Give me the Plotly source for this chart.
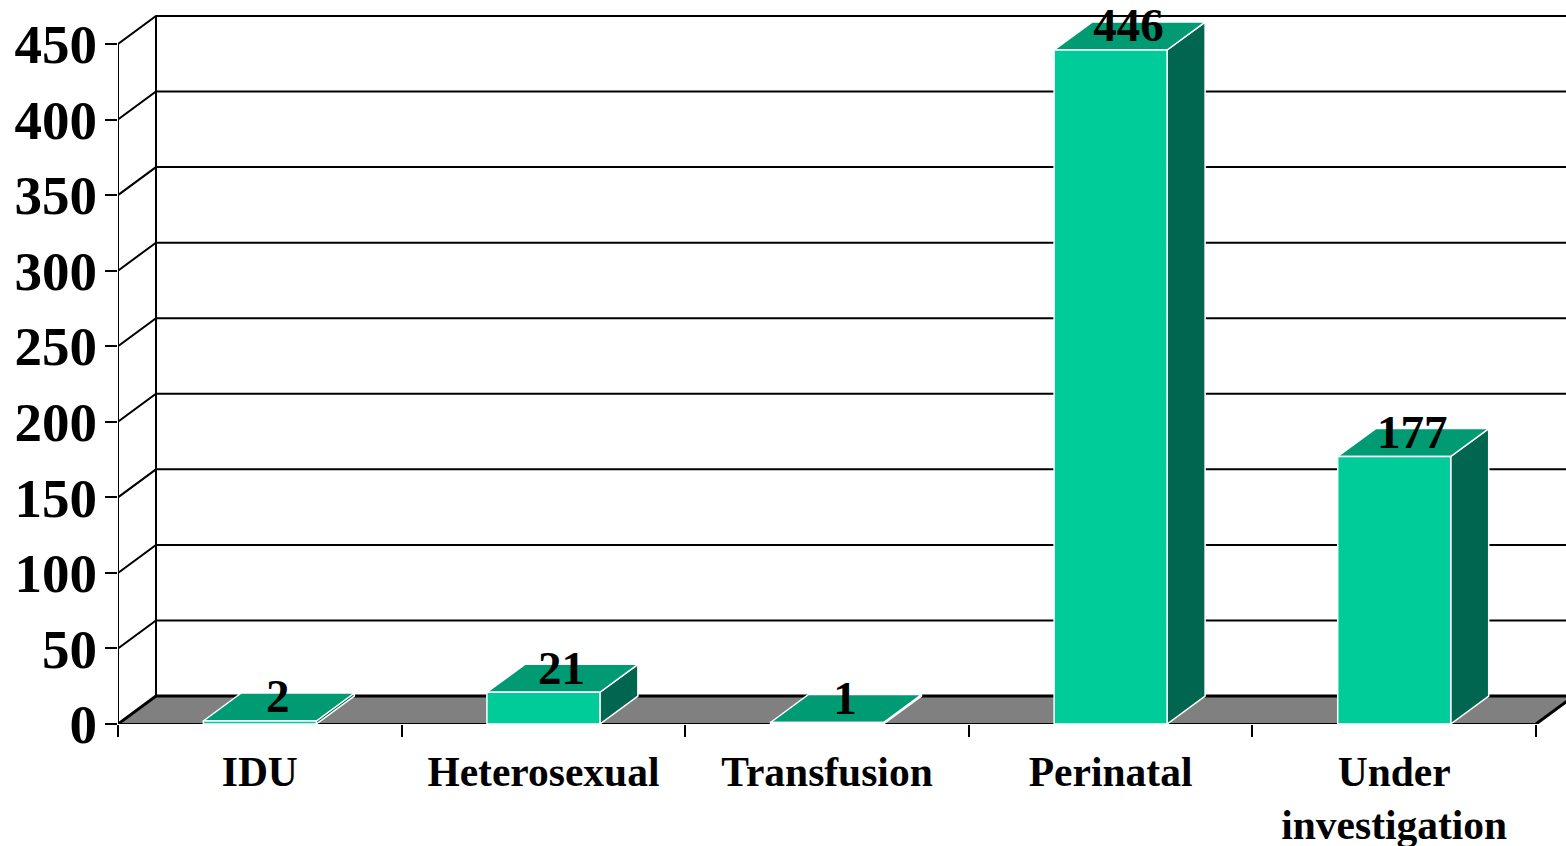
import plotly.graph_objects as go

categories = ["IDU", "Heterosexual", "Transfusion", "Perinatal", "Under<br>investigation"]
values = [2, 21, 1, 446, 177]
y_ticks = [0, 50, 100, 150, 200, 250, 300, 350, 400, 450]

W, H = 1566, 846
L, B0 = 118, 724.5          # axis origin inside the figure
CAT_PX = 283.6
VAL_PX = 680.5 / 450
DX, DY = 38 / CAT_PX, 28 / VAL_PX   # oblique depth in data units
HALF = 56.5 / CAT_PX        # half bar width
SERIF = "Liberation Serif, Times New Roman, serif"
X0, X1 = -0.5, 4.5
X_MAX = X0 + (W - L) / CAT_PX
Y_MAX = B0 / VAL_PX

FRONT, TOP, SIDE = "#00CC99", "#009A73", "#006650"


def poly(xs, ys, fill, line="rgba(0,0,0,0)", w=0, name=""):
    return go.Scatter(x=xs + xs[:1], y=ys + ys[:1], mode="lines", fill="toself", fillcolor=fill,
                      line=dict(color=line, width=w), hoverinfo="skip", showlegend=False, name=name)


fig = go.Figure()

# floor
fig.add_trace(poly([X0, X0 + DX, X1 + DX, X1], [0, DY, DY, 0], "#808080", name="floor"))

# back wall and side wall grid
gx, gy = [], []
for t in y_ticks[1:]:
    gx += [X0, X0 + DX, X_MAX, None]
    gy += [t, t + DY, t + DY, None]
fig.add_trace(go.Scatter(x=gx, y=gy, mode="lines", line=dict(color="black", width=2),
                         hoverinfo="skip", showlegend=False))
fig.add_trace(go.Scatter(x=[X0, X0 + DX, X_MAX, None, X1, X1 + DX], y=[0, DY, DY, None, 0, DY], mode="lines",
                         line=dict(color="black", width=3), hoverinfo="skip", showlegend=False))
fig.add_trace(go.Scatter(x=[X0 + DX, X0 + DX, None, X0, X0], y=[DY, y_ticks[-1] + DY, None, 0, y_ticks[-1]],
                         mode="lines", line=dict(color="black", width=2), hoverinfo="skip",
                         showlegend=False, cliponaxis=False))
fig.add_trace(go.Scatter(x=[X0, X1], y=[0, 0], mode="lines", line=dict(color="black", width=2),
                         hoverinfo="skip", showlegend=False, cliponaxis=False))

# bars
for i, v in enumerate(values):
    l, r = i - HALF, i + HALF
    fig.add_trace(poly([r, r + DX, r + DX, r], [0, DY, v + DY, v], SIDE, "white", 1.5, "side"))
    fig.add_trace(poly([l, r, r + DX, l + DX], [v, v, v + DY, v + DY], TOP, "white", 1.5, "top"))
    fig.add_trace(poly([l, r, r, l], [0, 0, v, v], FRONT, "white", 1.5, "front"))

# value labels
fig.add_trace(go.Scatter(
    x=[i + 18 / CAT_PX for i in range(len(values))],
    y=[v + 20.5 / VAL_PX for v in values],
    mode="text", text=[str(v) for v in values], textposition="middle center",
    textfont=dict(family=SERIF, size=47, color="black", weight="bold"),
    hoverinfo="skip", showlegend=False, cliponaxis=False))

fig.update_layout(
    width=W, height=H, autosize=False,
    margin=dict(l=L, r=0, t=0, b=H - B0),
    paper_bgcolor="white", plot_bgcolor="white", showlegend=False,
    xaxis=dict(
        range=[X0, X_MAX], showgrid=False, zeroline=False, showline=False, automargin=False,
        tickmode="array", tickvals=list(range(len(categories))), ticktext=categories,
        ticks="", ticklabelstandoff=19,
        tickfont=dict(family=SERIF, size=41.5, color="black", weight="bold"),
        minor=dict(tickmode="array", tickvals=[X0 + k for k in range(6)], ticks="outside",
                   ticklen=12, tickwidth=2, tickcolor="black", showgrid=False),
    ),
    yaxis=dict(
        range=[0, Y_MAX], showgrid=False, zeroline=False, showline=False, automargin=False,
        tickmode="array", tickvals=y_ticks, ticktext=[str(t) for t in y_ticks],
        ticks="outside", ticklen=12, tickwidth=2, tickcolor="black", ticklabelstandoff=-3,
        tickfont=dict(family=SERIF, size=55, color="black", weight="bold"),
    ),
)
fig.write_html("out.html", config={"displayModeBar": False},
               post_script="document.body.style.margin='0';document.body.style.overflow='hidden';")
